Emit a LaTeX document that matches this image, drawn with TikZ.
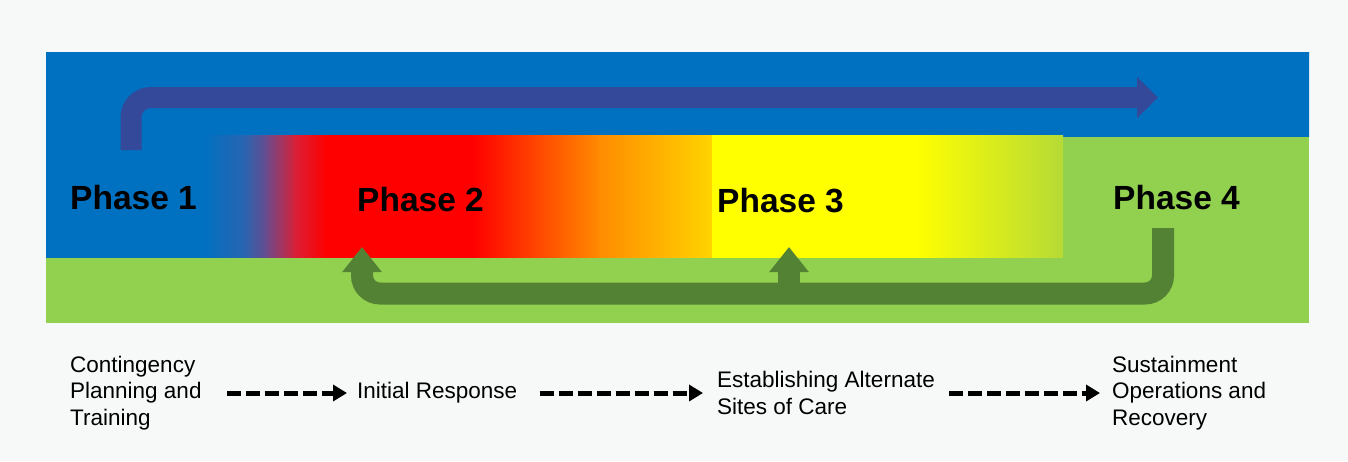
\documentclass[tikz,border=0pt]{standalone}
\usepackage{fontspec}
\setmainfont{Liberation Sans}
\usetikzlibrary{arrows.meta,positioning}

\definecolor{pagebg}{HTML}{F6F9F8}
\definecolor{bandblue}{HTML}{0070C0}
\definecolor{bandblueish}{HTML}{2A64B0}
\definecolor{bandpurple}{HTML}{6B4B8C}
\definecolor{bandcrimson}{HTML}{D82038}
\definecolor{bandred}{HTML}{FF0000}
\definecolor{bandorange}{HTML}{FF8C00}
\definecolor{bandgold}{HTML}{FFD400}
\definecolor{bandyellow}{HTML}{FFFF00}
\definecolor{bandlime}{HTML}{B6DA36}
\definecolor{bandgreen}{HTML}{92D050}
\definecolor{arrowblue}{HTML}{34499A}
\definecolor{arrowgreen}{HTML}{548235}

\begin{document}
\begin{tikzpicture}[x=1pt, y=-1pt,
  phase/.style={font=\fontsize{33.5}{40}\selectfont\bfseries, anchor=west, inner sep=0pt},
  steptext/.style={font=\fontsize{22.5}{26.5}\selectfont, anchor=west, align=left, inner sep=0pt},
  steparrow/.style={line width=5pt, dash pattern=on 14pt off 5pt, -{Triangle[length=14pt,width=16pt]}},
  fwdarrow/.style={draw=arrowblue, line width=21pt, rounded corners=20pt, -{Triangle[length=21pt,width=40pt]}},
  backarrow/.style={draw=arrowgreen, line width=22pt, rounded corners=18pt, -{Triangle[length=25pt,width=38pt]}}]

% Define the rows
\def\phaserow{198}
\def\steprow{393}

% Page
\useasboundingbox (0,0) rectangle (1348,461);
\fill[pagebg] (0,0) rectangle (1348,461);

% Bands
\fill[bandgreen] (46,52) rectangle (1309,323);
\fill[left color=bandblue, right color=bandblue] (46,52) rectangle (1309,136);
\foreach \xa/\xb/\ca/\cb in {46/205/bandblue/bandblue, 204/245/bandblue/bandblueish,
    244/267/bandblueish/bandpurple, 266/295/bandpurple/bandcrimson,
    294/326/bandcrimson/bandred, 325/474/bandred/bandred,
    473/600/bandred/bandorange, 599/712/bandorange/bandgold,
    712/916/bandyellow/bandyellow, 915/1062/bandyellow/bandlime} {
    \fill[left color=\ca, right color=\cb] (\xa,135.5) rectangle (\xb+1,257);
}

% Named ends of the big arrows
\coordinate (fwdstart) at (131,150);
\coordinate (fwdend) at (1158,97.5);
\coordinate (backstart) at (1163,228);
\coordinate (back2) at (362,247);
\coordinate (back3) at (789,247);

% Forward arrow
\draw[fwdarrow] (fwdstart) |- (fwdend);

% Arrows back from phase 4
\draw[backarrow] (backstart) -- (backstart |- 0,293.5) -- (back2 |- 0,293.5) -- (back2);
\draw[backarrow, rounded corners=0pt] (back3 |- 0,293.5) -- (back3);

% Phases
\node[phase] (p1) at (70,\phaserow) {Phase 1};
\node[phase] (p2) at (357,\phaserow+2) {Phase 2};
\node[phase] (p3) at (717,\phaserow+3) {Phase 3};
\node[phase] (p4) at (1113,\phaserow) {Phase 4};

% Steps
\node[steptext] (s1) at (70,\steprow) {Contingency\\Planning and\\Training};
\node[steptext] (s2) at (357,\steprow) {Initial Response};
\node[steptext] (s3) at (717,\steprow) {Establishing Alternate\\Sites of Care};
\node[steptext] (s4) at (1112,\steprow) {Sustainment\\Operations and\\Recovery};

% Dashed arrows between steps
\foreach \a/\b/\sa/\sb in {s1/s2/25/10, s2/s3/22/14, s3/s4/14/12} {
    \draw[steparrow, shorten <=\sa pt, shorten >=\sb pt] (\a.east) -- (\a.east -| \b.west);
}

\end{tikzpicture}
\end{document}
